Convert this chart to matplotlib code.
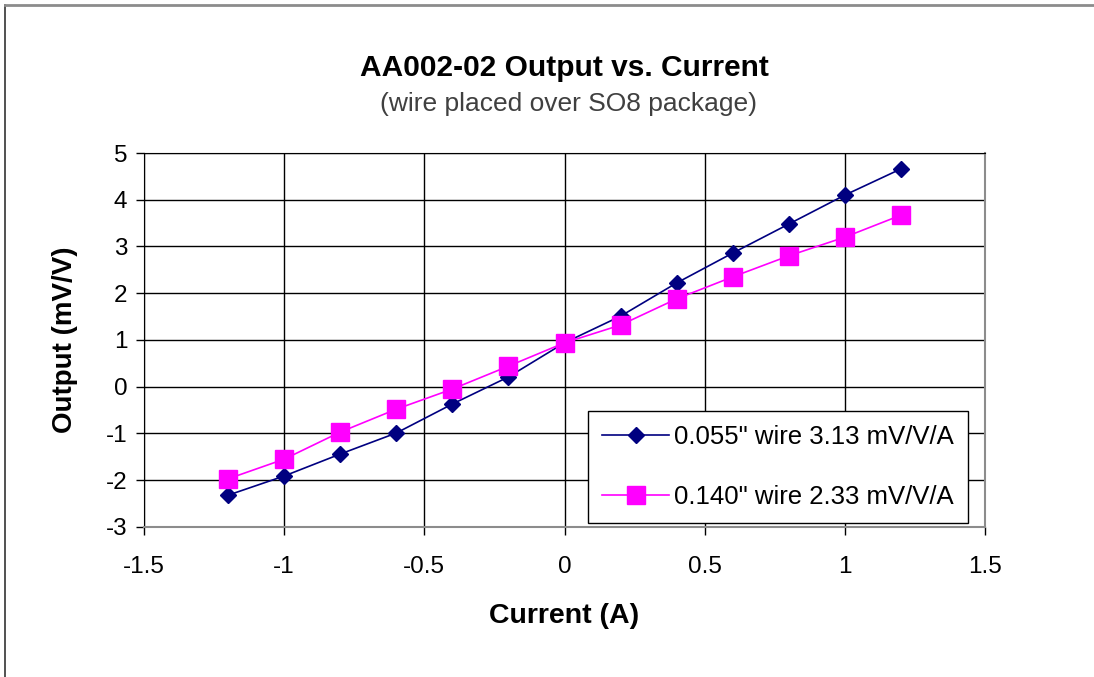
import matplotlib
matplotlib.use('Agg')
import matplotlib.pyplot as plt
from matplotlib.lines import Line2D
import numpy as np

current = [-1.2, -1.0, -0.8, -0.6, -0.4, -0.2, 0.0, 0.2, 0.4, 0.6, 0.8, 1.0, 1.2]
out_055 = [-2.32, -1.91, -1.44, -0.99, -0.37, 0.21, 0.94, 1.51, 2.22, 2.86, 3.48, 4.10, 4.66]
out_140 = [-1.97, -1.55, -0.97, -0.48, -0.05, 0.44, 0.94, 1.32, 1.88, 2.35, 2.80, 3.20, 3.67]
labels = ['0.055" wire 3.13 mV/V/A', '0.140" wire 2.33 mV/V/A']
xticks = [-1.5, -1, -0.5, 0, 0.5, 1, 1.5]
yticks = [-3, -2, -1, 0, 1, 2, 3, 4, 5]

plt.rcParams['font.family'] = ['Liberation Sans', 'DejaVu Sans']
plt.rcParams['axes.unicode_minus'] = False

fig = plt.figure(figsize=(10.94, 6.77), dpi=100)
ax = fig.add_axes([0.1316, 0.2216, 0.9004 - 0.1316, 0.774 - 0.2216])

# outer chart frame
fig.add_artist(Line2D([0.0046, 0.0046], [0, 0.993], transform=fig.transFigure, color='0.2', lw=1.2))
fig.add_artist(Line2D([0.0046, 1.0], [0.993, 0.993], transform=fig.transFigure, color='0.55', lw=2))

ax.plot(current, out_055, color='#000080', lw=1.2, marker='D', markersize=8.5, label=labels[0], zorder=3)
ax.plot(current, out_140, color='#ff00ff', lw=1.2, marker='s', markersize=13, label=labels[1], zorder=3)

ax.set_xlim(-1.5, 1.5)
ax.set_ylim(-3, 5)
ax.set_xticks(xticks)
ax.set_xticklabels(['-1.5', '-1', '-0.5', '0', '0.5', '1', '1.5'])
ax.set_yticks(yticks)
ax.set_yticklabels([str(v) for v in yticks])
ax.grid(True, color='black', lw=1)
ax.tick_params(direction='out', length=6, width=1, labelsize=17.5, pad=15)
ax.tick_params(axis='y', pad=6)
for s in ['right', 'bottom']:
    ax.spines[s].set_color('0.55')
    ax.spines[s].set_linewidth(1.5)
ax.spines['left'].set_color('black')
ax.spines['top'].set_color('black')

ax.set_xlabel('Current (A)', fontsize=20.5, fontweight='bold', labelpad=18)
ax.set_ylabel('Output (mV/V)', fontsize=20, fontweight='bold', labelpad=20)

fig.text(0.516, 0.899, 'AA002-02 Output vs. Current', ha='center', va='center', fontsize=21.5, fontweight='bold')
fig.text(0.52, 0.846, '(wire placed over SO8 package)', ha='center', va='center', fontsize=19, color='0.25')

leg = ax.legend(loc='lower right', bbox_to_anchor=(0.98, 0.01), borderaxespad=0, fontsize=18.5,
                fancybox=False, framealpha=1, edgecolor='black', handlelength=2.6,
                labelspacing=1.4, borderpad=0.55, handletextpad=0.2)
leg.get_frame().set_linewidth(1)

fig.savefig('out.png', dpi=100)
